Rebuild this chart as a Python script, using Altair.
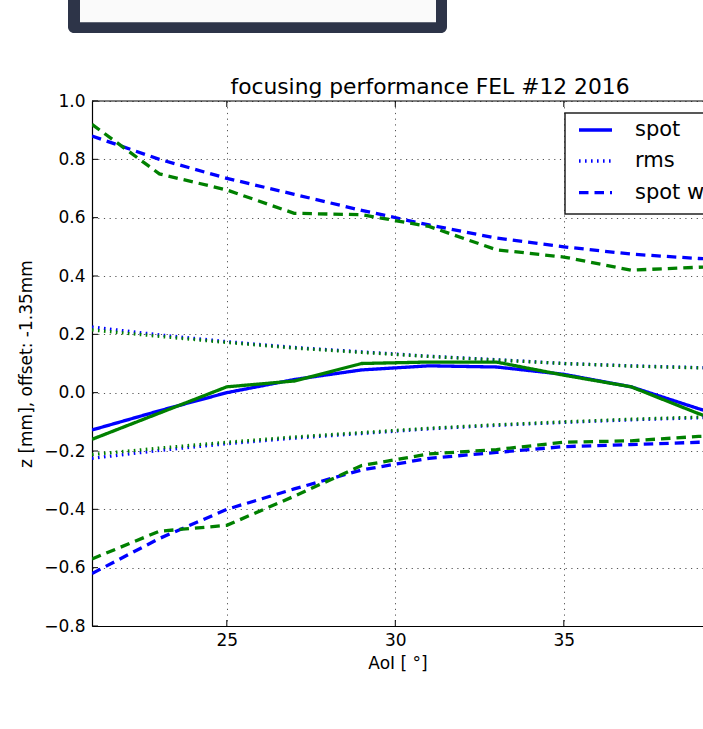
import altair as alt
import pandas as pd

# ---- data ----
aoi = [21, 23, 25, 27, 29, 31, 33, 35, 37, 39, 41]

blue_spot = [-0.128, -0.062, 0.0, 0.045, 0.078, 0.092, 0.088, 0.063, 0.02, -0.055, -0.12]
green_spot = [-0.16, -0.07, 0.02, 0.04, 0.10, 0.105, 0.105, 0.06, 0.02, -0.072, -0.15]

blue_rms_up = [0.225, 0.198, 0.175, 0.155, 0.14, 0.125, 0.113, 0.10, 0.092, 0.086, 0.08]
green_rms_up = [0.215, 0.193, 0.172, 0.153, 0.138, 0.124, 0.112, 0.10, 0.091, 0.085, 0.08]
blue_rms_lo = [-0.225, -0.198, -0.175, -0.156, -0.14, -0.124, -0.112, -0.102, -0.093, -0.086, -0.082]
green_rms_lo = [-0.212, -0.19, -0.17, -0.152, -0.137, -0.122, -0.11, -0.10, -0.091, -0.084, -0.08]

blue_w_up = [0.88, 0.80, 0.735, 0.68, 0.625, 0.575, 0.53, 0.50, 0.475, 0.46, 0.45]
green_w_up = [0.92, 0.75, 0.695, 0.615, 0.61, 0.57, 0.49, 0.465, 0.42, 0.43, 0.44]
blue_w_lo = [-0.62, -0.50, -0.40, -0.33, -0.265, -0.225, -0.205, -0.185, -0.178, -0.17, -0.165]
green_w_lo = [-0.57, -0.475, -0.455, -0.355, -0.25, -0.21, -0.195, -0.17, -0.165, -0.15, -0.14]

x_ticks = [25, 30, 35]
y_ticks = [-0.8, -0.6, -0.4, -0.2, 0.0, 0.2, 0.4, 0.6, 0.8, 1.0]
legend_labels = ["spot", "rms", "spot width"]
legend_styles = ["solid", "dotted", "dashed"]
title_text = "focusing performance FEL #12 2016"

series = [
    ("blue", "spot", "solid", blue_spot),
    ("blue", "rms_up", "dotted", blue_rms_up),
    ("blue", "rms_lo", "dotted", blue_rms_lo),
    ("blue", "w_up", "dashed", blue_w_up),
    ("blue", "w_lo", "dashed", blue_w_lo),
    ("green", "spot", "solid", green_spot),
    ("green", "rms_up", "dotted", green_rms_up),
    ("green", "rms_lo", "dotted", green_rms_lo),
    ("green", "w_up", "dashed", green_w_up),
    ("green", "w_lo", "dashed", green_w_lo),
]
rows = []
order = 0
for beam, curve, style, vals in series:
    for a, v in zip(aoi, vals):
        rows.append({"aoi": a, "z": v, "beam": beam, "curve": beam + "_" + curve,
                     "style": style, "ord": order})
    order += 1
df = pd.DataFrame(rows)

FONT = "DejaVu Sans"
W, H = 611, 525
BLUE, GREEN = "#0000ff", "#008000"
LW = 3.3

xscale = alt.Scale(domain=[21, 39.13], nice=False, zero=False)
yscale = alt.Scale(domain=[-0.8, 1.0], nice=False, zero=False)
cscale = alt.Scale(domain=["blue", "green"], range=[BLUE, GREEN])

xenc = alt.X("aoi:Q", scale=xscale,
             axis=alt.Axis(values=x_ticks, title="AoI [ °]", format="d",
                           labelFontSize=17, titleFontSize=17, labelPadding=6,
                           titleY=37, titleBaseline="middle",
                           titleFontWeight="normal"))
yenc = alt.Y("z:Q", scale=yscale,
             axis=alt.Axis(values=y_ticks, format=".1f",
                           title="z [mm], offset: -1.35mm",
                           labelFontSize=17, titleFontSize=17, labelPadding=7,
                           titleAngle=270, titleX=-66, titleY=262.5,
                           titleAlign="center", titleBaseline="middle",
                           titleFontWeight="normal"))

dash = {"solid": [1, 0], "dotted": [1.6, 4.4], "dashed": [9.5, 6]}

line_layers = []
for style in ["solid", "dotted", "dashed"]:
    sub = df[df["style"] == style]
    line_layers.append(
        alt.Chart(sub).mark_line(clip=True, strokeWidth=LW, strokeCap="butt",
                                 strokeDash=dash[style]).encode(
            x=xenc, y=yenc,
            color=alt.Color("beam:N", scale=cscale, legend=None),
            detail="curve:N",
            order="ord:Q",
        )
    )

# inward ticks (matplotlib style)
xt = pd.DataFrame({"aoi": x_ticks})
yt = pd.DataFrame({"z": y_ticks})
tick_top = alt.Chart(xt).mark_rule(color="black", strokeWidth=1).encode(
    x=alt.X("aoi:Q", scale=xscale), y=alt.value(0), y2=alt.value(6))
tick_bot = alt.Chart(xt).mark_rule(color="black", strokeWidth=1).encode(
    x=alt.X("aoi:Q", scale=xscale), y=alt.value(H), y2=alt.value(H - 6))
tick_left = alt.Chart(yt).mark_rule(color="black", strokeWidth=1).encode(
    y=alt.Y("z:Q", scale=yscale), x=alt.value(0), x2=alt.value(6))

one = pd.DataFrame({"k": [0]})
top_border = alt.Chart(one).mark_rule(color="black", strokeWidth=1.2).encode(
    x=alt.value(0), x2=alt.value(W), y=alt.value(0))

title = alt.Chart(pd.DataFrame({"t": [title_text]})).mark_text(
    font=FONT, fontSize=21.8, color="black", align="center", baseline="middle"
).encode(text="t:N", x=alt.value(338), y=alt.value(-14))

# decorative box at the very top of the screenshot
box_outer = alt.Chart(one).mark_rect(fill="#2d3448", cornerRadius=6).encode(
    x=alt.value(-24), x2=alt.value(355), y=alt.value(-130), y2=alt.value(-68))
box_inner = alt.Chart(one).mark_rect(fill="#fafafa").encode(
    x=alt.value(-12), x2=alt.value(344), y=alt.value(-130), y2=alt.value(-78.7))

# legend box (clipped at the right edge, as in the reference)
leg_y = [29, 60, 91.7]
leg_box = alt.Chart(one).mark_rect(clip=True, fill="white", stroke="#222",
                                   strokeWidth=1.5).encode(
    x=alt.value(473), x2=alt.value(760), y=alt.value(12), y2=alt.value(113))
leg_lines = []
for i, style in enumerate(legend_styles):
    leg_lines.append(
        alt.Chart(one).mark_rule(clip=True, color=BLUE, strokeWidth=LW,
                                 strokeCap="butt", strokeDash=dash[style]).encode(
            x=alt.value(487), x2=alt.value(520), y=alt.value(leg_y[i]))
    )
leg_text = []
for i, lab in enumerate(legend_labels):
    leg_text.append(
        alt.Chart(pd.DataFrame({"label": [lab]})).mark_text(
            clip=True, font=FONT, fontSize=21, color="black", align="left",
            baseline="middle").encode(
            text="label:N", x=alt.value(543), y=alt.value(leg_y[i]))
    )

chart = alt.layer(
    *line_layers, tick_top, tick_bot, tick_left, top_border, title,
    box_outer, box_inner, leg_box, *leg_lines, *leg_text
).properties(
    width=W, height=H,
    padding={"left": 92, "top": 101, "right": 0, "bottom": 103},
    autosize=alt.AutoSizeParams(type="none"),
    background="white",
).configure_view(
    stroke=None
).configure_axis(
    labelFont=FONT, titleFont=FONT, labelColor="black", titleColor="black",
    domainColor="black", domainWidth=1.2, ticks=False,
    grid=True, gridColor="#555", gridDash=[1.2, 4.5], gridWidth=1,
)

chart.save("out.html", embed_options={"renderer": "svg", "actions": False})
